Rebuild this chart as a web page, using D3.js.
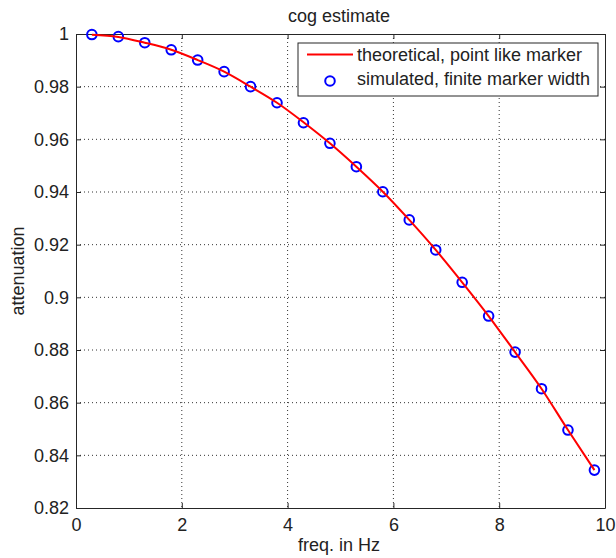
<!DOCTYPE html>
<html>
<head>
<meta charset="utf-8">
<script src="https://cdn.jsdelivr.net/npm/d3@7"></script>
<style>
  html, body { margin: 0; padding: 0; background: #fff; }
  svg { display: block; font-family: "Liberation Sans", Arial, sans-serif; }
</style>
</head>
<body>
<svg id="chart" width="616" height="558"></svg>
<script>
// ---- data ----
const title = "cog estimate";
const xLabel = "freq. in Hz";
const yLabel = "attenuation";
const xTicks = [0, 2, 4, 6, 8, 10];
const yTicks = [0.82, 0.84, 0.86, 0.88, 0.9, 0.92, 0.94, 0.96, 0.98, 1];
const theoryFreq = [0.3, 0.8, 1.3, 1.8, 2.3, 2.8, 3.3, 3.8, 4.3, 4.8, 5.3, 5.8, 6.3, 6.8, 7.3, 7.8, 8.3, 8.8, 9.3, 9.8];
const theoryAtten = [0.9997, 0.9989, 0.9967, 0.9940, 0.9901, 0.9857, 0.9800, 0.9739, 0.9665, 0.9585, 0.9496, 0.9401, 0.9294, 0.9180, 0.9057, 0.8929, 0.8792, 0.8653, 0.8496, 0.8344];
const simFreq = [0.3, 0.8, 1.3, 1.8, 2.3, 2.8, 3.3, 3.8, 4.3, 4.8, 5.3, 5.8, 6.3, 6.8, 7.3, 7.8, 8.3, 8.8, 9.3, 9.8];
const simAtten = [0.9998, 0.9990, 0.9967, 0.9940, 0.9901, 0.9857, 0.9800, 0.9739, 0.9663, 0.9585, 0.9496, 0.9401, 0.9294, 0.9180, 0.9057, 0.8929, 0.8792, 0.8653, 0.8496, 0.8344];
const legendLabels = ["theoretical, point like marker", "simulated, finite marker width"];

// ---- layout ----
const L = 76, R = 605, T = 34, B = 508;
const svg = d3.select("#chart");
const x = d3.scaleLinear().domain([0, 10]).range([L, R]);
const y = d3.scaleLinear().domain([0.82, 1]).range([B, T]);
const axisColor = "#262626";
const fs = 18;

// grid
const grid = svg.append("g");
grid.selectAll("line.gx").data(xTicks.slice(1, -1)).join("line")
  .attr("x1", d => x(d)).attr("x2", d => x(d)).attr("y1", T).attr("y2", B)
  .attr("stroke", "#333").attr("stroke-width", 1).attr("stroke-dasharray", "1,3");
grid.selectAll("line.gy").data(yTicks.slice(1, -1)).join("line")
  .attr("x1", L).attr("x2", R).attr("y1", d => y(d)).attr("y2", d => y(d))
  .attr("stroke", "#333").attr("stroke-width", 1).attr("stroke-dasharray", "1,3");

// axes with inward ticks
const tk = 5;
const axB = svg.append("g").attr("transform", `translate(0,${B})`)
  .call(d3.axisBottom(x).tickValues(xTicks).tickSizeInner(-tk).tickSizeOuter(0).tickPadding(10).tickFormat(d3.format("d")));
const axT = svg.append("g").attr("transform", `translate(0,${T})`)
  .call(d3.axisTop(x).tickValues(xTicks).tickSizeInner(-tk).tickSizeOuter(0).tickFormat(""));
const axLft = svg.append("g").attr("transform", `translate(${L},0)`)
  .call(d3.axisLeft(y).tickValues(yTicks).tickSizeInner(-tk).tickSizeOuter(0).tickPadding(7).tickFormat(d => d3.format("")(+d.toFixed(2))));
const axRt = svg.append("g").attr("transform", `translate(${R},0)`)
  .call(d3.axisRight(y).tickValues(yTicks).tickSizeInner(-tk).tickSizeOuter(0).tickFormat(""));
[axB, axT, axLft, axRt].forEach(a => {
  a.selectAll("path.domain").attr("stroke", axisColor).attr("stroke-width", 1);
  a.selectAll(".tick line").attr("stroke", axisColor);
  a.selectAll(".tick text").attr("fill", "#222").attr("font-size", fs).attr("font-family", "Liberation Sans, Arial, sans-serif");
});

// simulated markers
svg.append("g").selectAll("circle").data(simFreq.map((f, i) => [f, simAtten[i]])).join("circle")
  .attr("cx", d => x(d[0])).attr("cy", d => y(d[1])).attr("r", 4.8)
  .attr("fill", "none").attr("stroke", "#0000ff").attr("stroke-width", 2);

// theoretical line
const line = d3.line().x(d => x(d[0])).y(d => y(d[1])).curve(d3.curveMonotoneX);
svg.append("path").datum(theoryFreq.map((f, i) => [f, theoryAtten[i]]))
  .attr("d", line).attr("fill", "none").attr("stroke", "#ff0000").attr("stroke-width", 2);

// labels
svg.append("text").attr("x", 339).attr("y", 22).attr("text-anchor", "middle")
  .attr("font-size", fs).attr("fill", "#222").text(title);
svg.append("text").attr("x", 339).attr("y", 551).attr("text-anchor", "middle")
  .attr("font-size", fs).attr("fill", "#222").text(xLabel);
svg.append("text").attr("transform", `translate(24,${(T + B) / 2}) rotate(-90)`).attr("text-anchor", "middle")
  .attr("font-size", fs).attr("fill", "#222").text(yLabel);

// legend
const lg = svg.append("g");
lg.append("rect").attr("x", 298).attr("y", 43).attr("width", 300).attr("height", 53)
  .attr("fill", "#fff").attr("stroke", axisColor).attr("stroke-width", 1);
lg.append("line").attr("x1", 307).attr("x2", 353).attr("y1", 54.5).attr("y2", 54.5)
  .attr("stroke", "#ff0000").attr("stroke-width", 2);
lg.append("circle").attr("cx", 330).attr("cy", 81).attr("r", 4.8)
  .attr("fill", "none").attr("stroke", "#0000ff").attr("stroke-width", 2);
lg.selectAll("text").data(legendLabels).join("text")
  .attr("x", 357).attr("y", (d, i) => 61 + i * 24)
  .attr("font-size", fs).attr("fill", "#222").text(d => d);
</script>
</body>
</html>
